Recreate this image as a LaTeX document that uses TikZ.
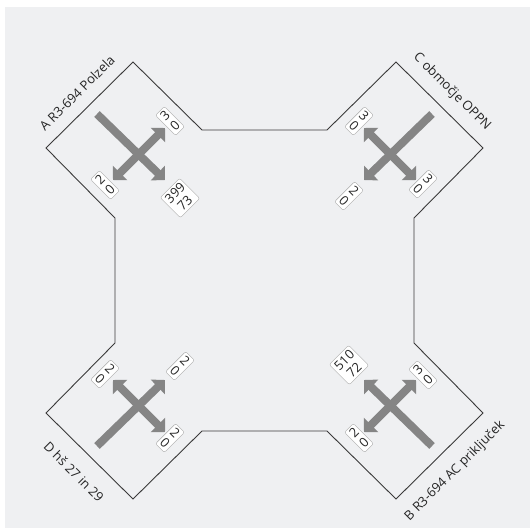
\documentclass[tikz,border=0pt]{standalone}
\usepackage{fontspec}
\setsansfont{Open Sans}
\usepackage{tikz}
\usetikzlibrary{arrows.meta}
\definecolor{roadline}{HTML}{3A3A3A}
\definecolor{flowgray}{HTML}{858585}
\definecolor{bggray}{HTML}{EFF0F2}
\definecolor{tagline}{HTML}{A8A8A8}

\begin{document}
\begin{tikzpicture}[
  x=1pt,y=-1pt,
  road/.style={draw=roadline,line width=0.9pt,line join=miter},
  flow/.style={-{Triangle[width=20pt,length=10pt]},line width=8pt,draw=flowgray},
  flows/.style={{Triangle[width=20pt,length=10pt]}-{Triangle[width=20pt,length=10pt]},line width=8pt,draw=flowgray},
  tag/.style={draw=tagline,fill=white,rounded corners=2pt,inner xsep=2.5pt,inner ysep=2.5pt,align=center,font=\sffamily\fontsize{13}{14}\selectfont,text=black!85},
  arm/.style={font=\sffamily\fontsize{13}{15}\selectfont,text=black!85}
]
\useasboundingbox (0,0) rectangle (530,528);
\fill[bggray] (5,7) rectangle (530,528);
% junction outline
\draw[road] (133,62) -- (202,130) -- (327,130) -- (396,62) -- (483,148) -- (414,218)
  -- (414,343) -- (483,413) -- (396,499) -- (327,431) -- (202,431) -- (133,499)
  -- (46,413) -- (115,343) -- (115,218) -- (46,148) -- cycle;
% arm names
\node[arm,rotate=45] (nameA) at (77,93) {A R3-694 Polzela};
\node[arm,rotate=-45] (nameC) at (452,92) {C območje OPPN};
\node[arm,rotate=-45] (nameD) at (74,472) {D hš 27 in 29};
\node[arm,rotate=45] (nameB) at (455,471) {B R3-694 AC priključek};
% arm A
\coordinate (aIn) at (97,114);
\coordinate (aStraight) at (165,180);
\coordinate (aLeft) at (165,128);
\coordinate (aRight) at (113,180);
\draw[flow] (aIn) -- (aStraight);
\draw[flows] (aRight) -- (aLeft);
% arm C
\coordinate (cIn) at (432,114);
\coordinate (cStraight) at (364,180);
\coordinate (cLeft) at (416,180);
\coordinate (cRight) at (364,128);
\draw[flow] (cIn) -- (cStraight);
\draw[flows] (cRight) -- (cLeft);
% arm D
\coordinate (dIn) at (97,446);
\coordinate (dStraight) at (165,380);
\coordinate (dLeft) at (113,380);
\coordinate (dRight) at (165,432);
\draw[flow] (dIn) -- (dStraight);
\draw[flows] (dLeft) -- (dRight);
% arm B
\coordinate (bIn) at (432,446);
\coordinate (bStraight) at (364,380);
\coordinate (bLeft) at (364,432);
\coordinate (bRight) at (416,380);
\draw[flow] (bIn) -- (bStraight);
\draw[flows] (bLeft) -- (bRight);
% counts
\node[tag,rotate=45] (tA1) at (170,121) {3\\0};
\node[tag,rotate=45] (tA2) at (105,185) {2\\0};
\node[tag,rotate=45] (tA3) at (180,198) {399\\73};
\node[tag,rotate=-45] (tC1) at (359,121) {3\\0};
\node[tag,rotate=-45] (tC2) at (349,196) {2\\0};
\node[tag,rotate=-45] (tC3) at (423,184) {3\\0};
\node[tag,rotate=-45] (tD1) at (105,374) {2\\0};
\node[tag,rotate=-45] (tD2) at (180,366) {2\\0};
\node[tag,rotate=-45] (tD3) at (170,438) {2\\0};
\node[tag,rotate=45] (tB1) at (349,365) {510\\72};
\node[tag,rotate=45] (tB2) at (423,375) {3\\0};
\node[tag,rotate=45] (tB3) at (359,438) {2\\0};
\end{tikzpicture}
\end{document}
